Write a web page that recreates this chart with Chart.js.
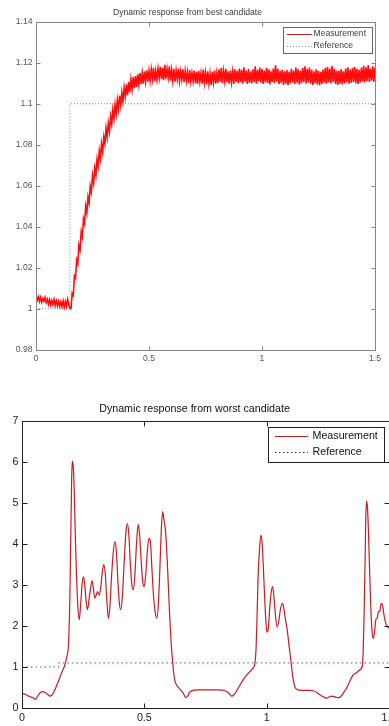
<!DOCTYPE html>
<html><head><meta charset="utf-8">
<script src="https://cdn.jsdelivr.net/npm/chart.js@4"></script>
<style>
html,body{margin:0;padding:0;background:#fff;overflow:hidden;width:389px;height:726px;}
#c1{position:absolute;left:0;top:0;}
#c2{position:absolute;left:0;top:380px;}
</style></head><body>
<canvas id="c1" width="389" height="372"></canvas>
<canvas id="c2" width="420" height="346"></canvas>
<script>
// ---------- data ----------
const bestSampleStep = 0.005;
const bestMeasurement = [
1.0062,1.0040,1.0058,1.0035,1.0055,1.0032,1.0050,1.0036,1.0054,1.0030,
1.0046,1.0022,1.0044,1.0018,1.0040,1.0020,1.0045,1.0016,1.0038,1.0014,
1.0036,1.0012,1.0034,1.0010,1.0038,1.0008,1.0035,1.0012,1.0046,1.0020,
1.0002,
1.0000,1.0075,1.0065,1.0160,1.0150,1.0238,1.0220,1.0310,1.0287,1.0375,
1.0350,1.0438,1.0415,1.0500,1.0467,1.0545,1.0515,1.0598,1.0570,1.0650,
1.0612,1.0685,1.0650,1.0728,1.0695,1.0770,1.0732,1.0805,1.0765,1.0838,
1.0805,1.0880,1.0837,1.0905,1.0865,1.0938,1.0900,1.0970,1.0927,1.0995,
1.0950,1.1018,1.0975,1.1040,1.0992,1.1055,1.1010,1.1078,1.1035,1.1095,
1.1042,1.1105,1.1055,1.1118,1.1070,1.1130,1.1077,1.1135,1.1082,1.1143,
1.1093,1.1150,1.1095,1.1150,1.1098,1.1158,1.1107,1.1163,1.1107,1.1161,
1.1112,1.1168,1.1120,1.1175,1.1110,1.1160,1.1118,1.1172,1.1126,1.1180,
1.1120,1.1176,1.1115,1.1190,1.1122,1.1170,1.1128,1.1182,1.1112,1.1165,
1.1114,1.1170,1.1108,1.1162,1.1120,1.1172,1.1110,1.1158,1.1118,1.1168,
1.1106,1.1160,1.1112,1.1155,1.1100,1.1164,1.1108,1.1150,1.1110,1.1162,
1.1102,1.1155,1.1096,1.1160,1.1108,1.1150,1.1098,1.1166,1.1104,1.1152,
1.1094,1.1158,1.1100,1.1148,1.1092,1.1155,1.1104,1.1162,1.1098,1.1150,
1.1102,1.1168,1.1108,1.1175,1.1100,1.1160,1.1112,1.1170,1.1104,1.1158,
1.1098,1.1162,1.1104,1.1155,1.1096,1.1168,1.1106,1.1160,1.1100,1.1172,
1.1105,1.1165,1.1098,1.1178,1.1108,1.1160,1.1096,1.1170,1.1102,1.1158,
1.1100,1.1168,1.1106,1.1182,1.1098,1.1165,1.1110,1.1176,1.1102,1.1170,
1.1096,1.1162,1.1104,1.1175,1.1100,1.1168,1.1094,1.1158,1.1106,1.1172,
1.1100,1.1188,1.1108,1.1170,1.1096,1.1160,1.1102,1.1166,1.1092,1.1158,
1.1098,1.1164,1.1090,1.1155,1.1100,1.1170,1.1104,1.1162,1.1096,1.1176,
1.1102,1.1168,1.1094,1.1160,1.1100,1.1174,1.1106,1.1182,1.1098,1.1170,
1.1104,1.1176,1.1098,1.1165,1.1092,1.1158,1.1100,1.1168,1.1094,1.1160,
1.1090,1.1155,1.1096,1.1166,1.1102,1.1175,1.1098,1.1180,1.1104,1.1172,
1.1100,1.1184,1.1106,1.1170,1.1096,1.1162,1.1092,1.1160,1.1098,1.1168,
1.1094,1.1158,1.1100,1.1172,1.1104,1.1178,1.1098,1.1166,1.1102,1.1174,
1.1106,1.1180,1.1100,1.1170,1.1096,1.1165,1.1104,1.1176,1.1108,1.1185,
1.1104,1.1178,1.1110,1.1188,1.1106,1.1172,1.1112,1.1182,1.1108,1.1176];
const referenceTime  = [0, 0.15, 0.15, 1.5];
const referenceValue = [1, 1, 1.1, 1.1];

const worstTime = [
0.000,0.015,0.030,0.045,0.055,0.065,0.075,0.085,0.095,0.105,0.115,0.125,0.135,0.145,0.155,0.165,0.175,0.183,0.190,0.195,
0.199,0.203,0.206,0.210,0.214,0.218,0.223,0.228,0.234,0.240,0.246,0.252,0.258,0.263,0.268,0.274,0.281,0.287,0.293,0.298,
0.303,0.309,0.315,0.322,0.328,0.334,0.340,0.346,0.353,0.359,0.366,0.373,0.380,0.386,0.392,0.398,0.404,0.410,0.418,0.425,
0.431,0.437,0.443,0.449,0.455,0.461,0.468,0.475,0.481,0.487,0.493,0.499,0.505,0.512,0.519,0.525,0.531,0.538,0.544,0.551,
0.557,0.563,0.569,0.575,0.580,0.586,0.592,0.598,0.604,0.610,0.616,0.621,0.627,0.633,0.641,0.650,0.660,0.668,0.676,0.685,
0.700,0.720,0.760,0.800,0.830,0.845,0.857,0.868,0.880,0.893,0.905,0.918,0.930,0.945,0.952,0.957,0.961,0.965,0.970,0.976,
0.981,0.986,0.991,0.996,1.001,1.006,1.012,1.018,1.024,1.030,1.036,1.043,1.049,1.056,1.065,1.071,1.077,1.083,1.090,1.097,
1.103,1.109,1.115,1.125,1.140,1.170,1.190,1.205,1.220,1.233,1.245,1.255,1.265,1.280,1.292,1.303,1.315,1.327,1.340,1.353,
1.367,1.381,1.390,1.394,1.398,1.402,1.405,1.408,1.412,1.416,1.421,1.426,1.431,1.436,1.441,1.446,1.452,1.457,1.462,1.468,
1.474,1.480,1.487,1.494,1.500];
const worstMeasurement = [
0.36,0.33,0.28,0.25,0.21,0.30,0.38,0.40,0.38,0.33,0.29,0.33,0.45,0.60,0.75,0.90,1.05,1.25,1.55,2.5,
4.0,5.6,6.02,5.85,5.2,4.2,3.2,2.5,2.15,2.55,3.05,3.2,2.9,2.55,2.4,2.65,2.95,3.1,2.85,2.68,
2.75,2.84,2.75,2.95,3.3,3.5,3.3,2.7,2.18,2.45,3.2,3.8,4.06,3.8,3.1,2.55,2.4,2.7,3.6,4.3,
4.5,4.2,3.5,3.0,2.88,3.2,4.0,4.48,4.2,3.6,3.1,2.96,3.2,3.8,4.14,4.05,3.4,2.7,2.35,2.19,
2.5,3.3,4.3,4.79,4.6,4.35,3.8,3.0,2.2,1.55,1.1,0.80,0.62,0.55,0.49,0.43,0.35,0.26,0.28,0.38,
0.43,0.44,0.44,0.44,0.42,0.36,0.29,0.33,0.45,0.58,0.70,0.80,0.88,0.98,1.09,1.5,2.3,3.2,3.8,4.22,
4.05,3.5,2.8,2.2,1.85,1.9,2.4,2.8,2.96,2.7,2.25,1.98,2.1,2.4,2.55,2.4,2.15,1.95,1.6,1.25,
0.95,0.68,0.52,0.45,0.43,0.43,0.42,0.38,0.31,0.27,0.24,0.27,0.29,0.27,0.25,0.28,0.38,0.49,0.66,0.80,
0.86,0.93,1.0,1.3,2.2,3.5,4.6,5.05,4.9,4.3,3.3,2.4,1.85,1.70,1.85,2.15,2.2,2.35,2.35,2.55,
2.5,2.25,2.07,1.98,1.95];

const xTicks = [0, 0.5, 1, 1.5];
const xTickLabels = ['0', '0.5', '1', '1.5'];
const yTicksBest = [0.98, 1, 1.02, 1.04, 1.06, 1.08, 1.1, 1.12, 1.14];
const yTickLabelsBest = ['0.98', '1', '1.02', '1.04', '1.06', '1.08', '1.1', '1.12', '1.14'];
const yTicksWorst = [0, 1, 2, 3, 4, 5, 6, 7];
const yTickLabelsWorst = ['0', '1', '2', '3', '4', '5', '6', '7'];
const seriesNames = ['Measurement', 'Reference'];
const titleBest = 'Dynamic response from best candidate';
const titleWorst = 'Dynamic response from worst candidate';

// ---------- helpers ----------
const FONT = "'Liberation Sans', Arial, Helvetica, sans-serif";
const toPoints = (xs, ys) => ys.map((y, i) => ({x: xs[i], y}));
const bestPoints = bestMeasurement.map((y, i) => ({x: +(i * bestSampleStep).toFixed(4), y}));

const matlabAxes = {
  id: 'matlabAxes',
  afterDatasetsDraw(chart, args, o) {
    const {ctx, chartArea: a, scales} = chart;
    const L = Math.round(a.left) + 0.5, R = Math.round(a.right) + 0.5;
    const T = Math.round(a.top) + 0.5, B = Math.round(a.bottom) + 0.5;
    ctx.save();
    ctx.strokeStyle = o.axisColor; ctx.lineWidth = 1; ctx.setLineDash([]);
    ctx.strokeRect(L, T, R - L, B - T);
    ctx.beginPath();
    scales.x.ticks.forEach(t => {
      const px = Math.round(scales.x.getPixelForValue(t.value)) + 0.5;
      ctx.moveTo(px, B); ctx.lineTo(px, B - o.tick);
      ctx.moveTo(px, T); ctx.lineTo(px, T + o.tick);
    });
    scales.y.ticks.forEach(t => {
      const py = Math.round(scales.y.getPixelForValue(t.value)) + 0.5;
      ctx.moveTo(L, py); ctx.lineTo(L + o.tick, py);
      ctx.moveTo(R, py); ctx.lineTo(R - o.tick, py);
    });
    ctx.stroke();
    // legend
    const g = o.legend;
    ctx.fillStyle = '#fff';
    ctx.fillRect(g.x, g.y, g.w, g.h);
    ctx.strokeStyle = g.border;
    ctx.strokeRect(g.x + 0.5, g.y + 0.5, g.w, g.h);
    ctx.font = g.fontSize + 'px ' + FONT;
    ctx.textBaseline = 'middle'; ctx.textAlign = 'left';
    chart.data.datasets.forEach((ds, i) => {
      const yy = g.y + g.rows[i];
      ctx.beginPath();
      ctx.strokeStyle = g.sampleColors[i];
      ctx.lineWidth = 1;
      ctx.setLineDash(ds.borderDash && ds.borderDash.length ? g.sampleDash : []);
      ctx.moveTo(g.x + g.s0, Math.round(yy) + 0.5); ctx.lineTo(g.x + g.s1, Math.round(yy) + 0.5);
      ctx.stroke();
      ctx.setLineDash([]);
      ctx.fillStyle = g.text;
      ctx.fillText(ds.label, g.x + g.tx, yy);
    });
    ctx.restore();
  }
};

function makeChart(id, cfg) {
  return new Chart(document.getElementById(id), {
    type: 'line',
    data: {datasets: [
      {label: seriesNames[0], data: cfg.meas, borderColor: cfg.measColor, borderWidth: cfg.measWidth,
       pointRadius: 0, tension: 0, cubicInterpolationMode: cfg.smooth ? 'monotone' : 'default', fill: false},
      {label: seriesNames[1], data: toPoints(referenceTime, referenceValue), borderColor: cfg.refColor,
       borderWidth: 1, borderDash: cfg.refDash, pointRadius: 0, fill: false}
    ]},
    options: {
      responsive: false, animation: false, events: [],
      layout: {padding: {left: 0, right: cfg.padRight, top: 0, bottom: 0}},
      plugins: {
        legend: {display: false}, tooltip: {enabled: false},
        title: {display: true, text: cfg.title, color: cfg.titleColor,
          font: {family: FONT, size: cfg.fontSize, weight: 'normal', lineHeight: 1.2},
          padding: {top: cfg.titlePadTop, bottom: cfg.titlePadBottom}},
        matlabAxes: {axisColor: cfg.axisColor, tick: cfg.tick, legend: cfg.legend}
      },
      scales: {
        x: {type: 'linear', min: 0, max: 1.5,
          grid: {display: false, drawTicks: false}, border: {display: false},
          afterBuildTicks: s => { s.ticks = xTicks.map(v => ({value: v})); },
          afterFit: s => { s.height = cfg.xHeight; },
          ticks: {padding: cfg.xPad, color: cfg.tickColor, maxRotation: 0, autoSkip: false,
            font: {family: FONT, size: cfg.fontSize},
            callback: (v, i) => xTickLabels[i]}},
        y: {type: 'linear', min: cfg.ymin, max: cfg.ymax,
          grid: {display: false, drawTicks: false}, border: {display: false},
          afterBuildTicks: s => { s.ticks = cfg.yTicks.map(v => ({value: v})); },
          afterFit: s => { s.width = cfg.yWidth; },
          ticks: {padding: cfg.yPad, color: cfg.tickColor, autoSkip: false,
            font: {family: FONT, size: cfg.fontSize},
            callback: (v, i) => cfg.yLabels[i]}}
      }
    },
    plugins: [matlabAxes]
  });
}

makeChart('c1', {
  meas: bestPoints, measColor: '#ff0d0d', measWidth: 1.6, smooth: false,
  refColor: '#7d8cb4', refDash: [1, 2],
  title: titleBest, titleColor: '#3a3a3a', fontSize: 8.6, titlePadTop: 7.5, titlePadBottom: 3.9,
  padRight: 14, xHeight: 22.3, yWidth: 36, xPad: 3.5, yPad: 3.5,
  ymin: 0.98, ymax: 1.14, yTicks: yTicksBest, yLabels: yTickLabelsBest,
  tickColor: '#555', axisColor: '#858585', tick: 4,
  legend: {x: 283, y: 27, w: 89, h: 26, border: '#666', text: '#3a3a3a', fontSize: 8.6,
    rows: [6.5, 19], s0: 4, s1: 29, tx: 30.5, sampleColors: ['#c02020', '#8090b8'], sampleDash: [1, 2]}
});

makeChart('c2', {
  meas: toPoints(worstTime, worstMeasurement), measColor: '#c41e22', measWidth: 1.2, smooth: true,
  refColor: '#4c5a88', refDash: [1.5, 3],
  title: titleWorst, titleColor: '#111', fontSize: 10.7, titlePadTop: 22.6, titlePadBottom: 5.6,
  padRight: 31, xHeight: 18, yWidth: 22, xPad: 3.5, yPad: 3.5,
  ymin: 0, ymax: 7, yTicks: yTicksWorst, yLabels: yTickLabelsWorst,
  tickColor: '#222', axisColor: '#222', tick: 5,
  legend: {x: 268, y: 47, w: 116, h: 35, border: '#222', text: '#111', fontSize: 10.7,
    rows: [9, 25.3], s0: 7, s1: 40, tx: 44.5, sampleColors: ['#c41e22', '#333355'], sampleDash: [1.5, 2.5]}
});
</script>
</body></html>
